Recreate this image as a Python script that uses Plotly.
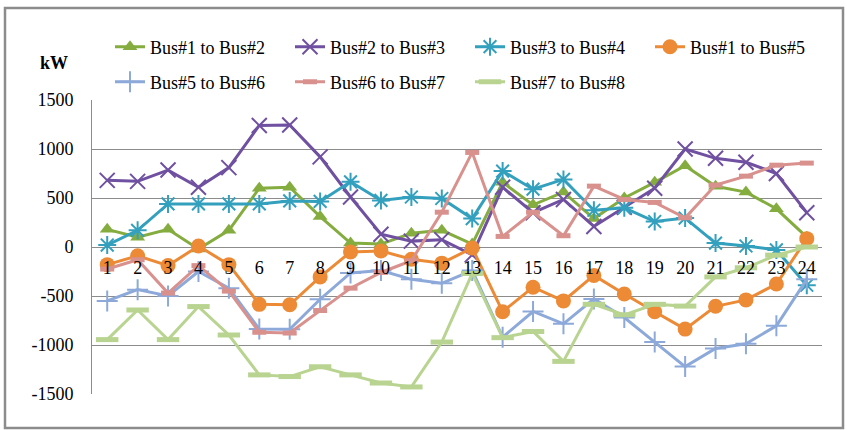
import plotly.graph_objects as go

hours = list(range(1, 25))
tick_labels = [str(h) for h in hours]
y_ticks = [-1500, -1000, -500, 0, 500, 1000, 1500]
y_tick_labels = ["-1500", "-1000", "-500", "0", "500", "1000", "1500"]

bus1_bus2 = [180, 100, 180, -20, 170, 600, 610, 310, 40, 30, 140, 170, 30, 660, 430, 560, 290, 500, 660, 830, 620, 560, 390, 100]
bus2_bus3 = [680, 670, 785, 610, 810, 1240, 1245, 920, 510, 130, 60, 75, -80, 610, 350, 485, 210, 405, 600, 1000, 905, 865, 750, 350]
bus3_bus4 = [20, 170, 440, 440, 440, 440, 470, 465, 665, 475, 510, 495, 290, 775, 590, 690, 375, 400, 260, 295, 40, 10, -30, -390]
bus1_bus5 = [-180, -90, -190, 10, -180, -585, -590, -305, -50, -40, -125, -165, -10, -660, -410, -550, -290, -480, -660, -838, -605, -540, -378, 85]
bus5_bus6 = [-550, -435, -500, -250, -420, -838, -840, -533, -265, -240, -330, -370, -240, -920, -658, -784, -530, -720, -970, -1220, -1035, -988, -804, -330]
bus6_bus7 = [-225, -130, -470, -190, -450, -870, -878, -648, -420, -260, -140, 355, 965, 108, 355, 115, 621, 485, 455, 298, 632, 723, 835, 856]
bus7_bus8 = [-945, -643, -945, -608, -898, -1305, -1322, -1222, -1305, -1388, -1428, -970, -270, -925, -862, -1167, -585, -692, -585, -603, -305, -212, -83, 0]

series = [
    ("Bus#1 to Bus#2", bus1_bus2, "#84AC3F", dict(symbol="triangle-up", size=13)),
    ("Bus#2 to Bus#3", bus2_bus3, "#7050A0", dict(symbol="x-thin-open", size=15, line=dict(width=2, color="#7050A0"))),
    ("Bus#3 to Bus#4", bus3_bus4, "#33A0BE", dict(symbol="asterisk-open", size=15, line=dict(width=2, color="#33A0BE"))),
    ("Bus#1 to Bus#5", bus1_bus5, "#EC8A36", dict(symbol="circle", size=15)),
    ("Bus#5 to Bus#6", bus5_bus6, "#8DA9DA", dict(symbol="cross-thin-open", size=15, line=dict(width=2, color="#8DA9DA"))),
    ("Bus#6 to Bus#7", bus6_bus7, "#D9918E", dict(symbol="line-ew-open", size=10, line=dict(width=5, color="#D9918E"))),
    ("Bus#7 to Bus#8", bus7_bus8, "#B8D490", dict(symbol="line-ew-open", size=16, line=dict(width=5, color="#B8D490"))),
]

fig = go.Figure()
for i, (name, vals, color, marker) in enumerate(series):
    fig.add_trace(go.Scatter(
        x=hours, y=vals, name=name, mode="lines+markers",
        line=dict(color=color, width=3),
        marker=dict(color=color, **marker),
        legend="legend" if i < 4 else "legend2",
    ))

L, R, T, B = 92, 25, 100, 36
W, H = 847, 430
pw, ph = W - L - R, H - T - B

def px_x(p):
    return (p - L) / pw

def px_y(p):
    return (H - B - p) / ph

font = "Times New Roman"
fig.update_layout(
    width=W, height=H,
    margin=dict(l=L, r=R, t=T, b=B),
    paper_bgcolor="white", plot_bgcolor="white",
    font=dict(family=font, size=17, color="black"),
    showlegend=True,
    legend=dict(orientation="h", x=px_x(110), y=px_y(47), xanchor="left", yanchor="middle",
                entrywidth=135, entrywidthmode="pixels", font=dict(family=font, size=18),
                bgcolor="rgba(0,0,0,0)"),
    legend2=dict(orientation="h", x=px_x(110), y=px_y(82), xanchor="left", yanchor="middle",
                 entrywidth=135, entrywidthmode="pixels", font=dict(family=font, size=18),
                 bgcolor="rgba(0,0,0,0)"),
    xaxis=dict(range=[0.5, 24.5], tickmode="array", tickvals=hours, ticktext=tick_labels,
               anchor="free", position=0.5, showgrid=False, zeroline=False, showline=False,
               ticks="", ticklabelstandoff=8, tickfont=dict(family=font, size=18)),
    yaxis=dict(range=[-1500, 1500], tickmode="array", tickvals=y_ticks, ticktext=y_tick_labels,
               showgrid=True, gridcolor="#8C8C8C", gridwidth=1,
               zeroline=False, showline=True, linecolor="#8C8C8C", linewidth=1,
               ticks="", ticklabelstandoff=14, tickfont=dict(family=font, size=18)),
    annotations=[dict(text="<b>kW</b>", xref="paper", yref="paper", x=px_x(54), y=px_y(63),
                      showarrow=False, font=dict(family=font, size=18), xanchor="center", yanchor="middle")],
    shapes=[dict(type="rect", xref="paper", yref="paper",
                 x0=px_x(5), x1=px_x(843), y0=px_y(428), y1=px_y(8),
                 line=dict(color="#8C8C8C", width=2.5), fillcolor="rgba(0,0,0,0)", layer="below")],
)

fig.write_html("out.html")
